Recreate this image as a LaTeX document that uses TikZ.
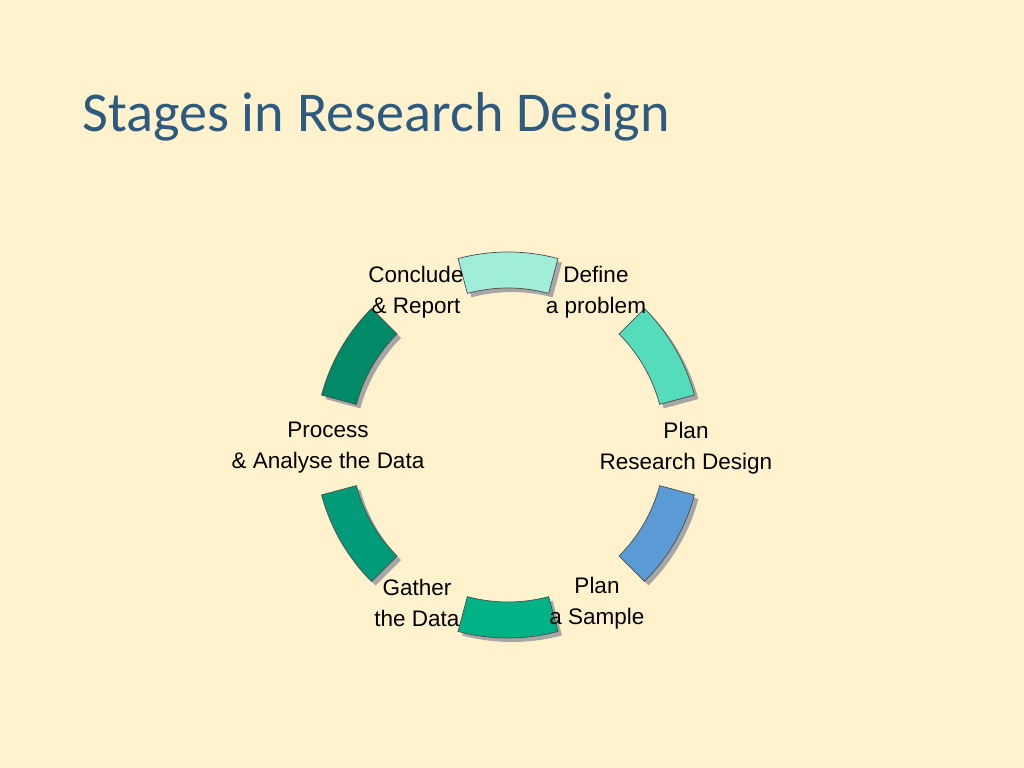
\documentclass[tikz,border=0pt]{standalone}
\usepackage{fontspec}
\setmainfont{Liberation Sans}
\newfontfamily\titlefont{Carlito}
\definecolor{bgcream}{HTML}{FFF2CC}
\definecolor{titleblue}{HTML}{2E5A80}
\definecolor{segA}{HTML}{A0EEDA}
\definecolor{segB}{HTML}{55DDBB}
\definecolor{segC}{HTML}{5B9BD5}
\definecolor{segD}{HTML}{00B386}
\definecolor{segE}{HTML}{009B78}
\definecolor{segF}{HTML}{008A68}
\tikzset{
  stagelabel/.style={align=center, font=\fontsize{16}{22}\selectfont, inner sep=0pt},
  segshadow/.style={fill=black!35, draw=none},
  segment/.style={draw=black!70, line width=0.5pt}
}
\begin{document}
\begin{tikzpicture}[x=0.025cm,y=-0.025cm]
\fill[bgcream] (0,0) rectangle (1024,768);
\useasboundingbox (0,0) rectangle (1024,768);

\node[anchor=base west, text=titleblue, inner sep=0pt, font=\titlefont\fontsize{40}{48}\selectfont] (title) at (82,132) {Stages in Research Design};

\coordinate (ctr) at (508,445);
% ring segments, shadow first (y axis points down, so angles run clockwise)
\foreach \a/\c in {-90/segA, -30/segB, 30/segC, 90/segD, 150/segE, -150/segF}
{
    \fill[segshadow] ([shift={(4,4)}]ctr) ++(\a-15:193) arc[start angle=\a-15, end angle=\a+15, radius=193]
        -- ++(\a+15:-36) arc[start angle=\a+15, end angle=\a-15, radius=157] -- cycle;
    \filldraw[segment, fill=\c] (ctr) ++(\a-15:193) arc[start angle=\a-15, end angle=\a+15, radius=193]
        -- ++(\a+15:-36) arc[start angle=\a+15, end angle=\a-15, radius=157] -- cycle;
}

\node[stagelabel] (conclude) at (416,292) {Conclude\\ \& Report};
\node[stagelabel] (define) at (596,292) {Define\\a problem};
\node[stagelabel] (process) at (328,448) {Process\\ \& Analyse the Data};
\node[stagelabel] (design) at (686,448) {Plan\\Research Design};
\node[stagelabel] (gather) at (417,603) {Gather\\the Data};
\node[stagelabel] (sample) at (597,603) {Plan\\a Sample};
\end{tikzpicture}
\end{document}
